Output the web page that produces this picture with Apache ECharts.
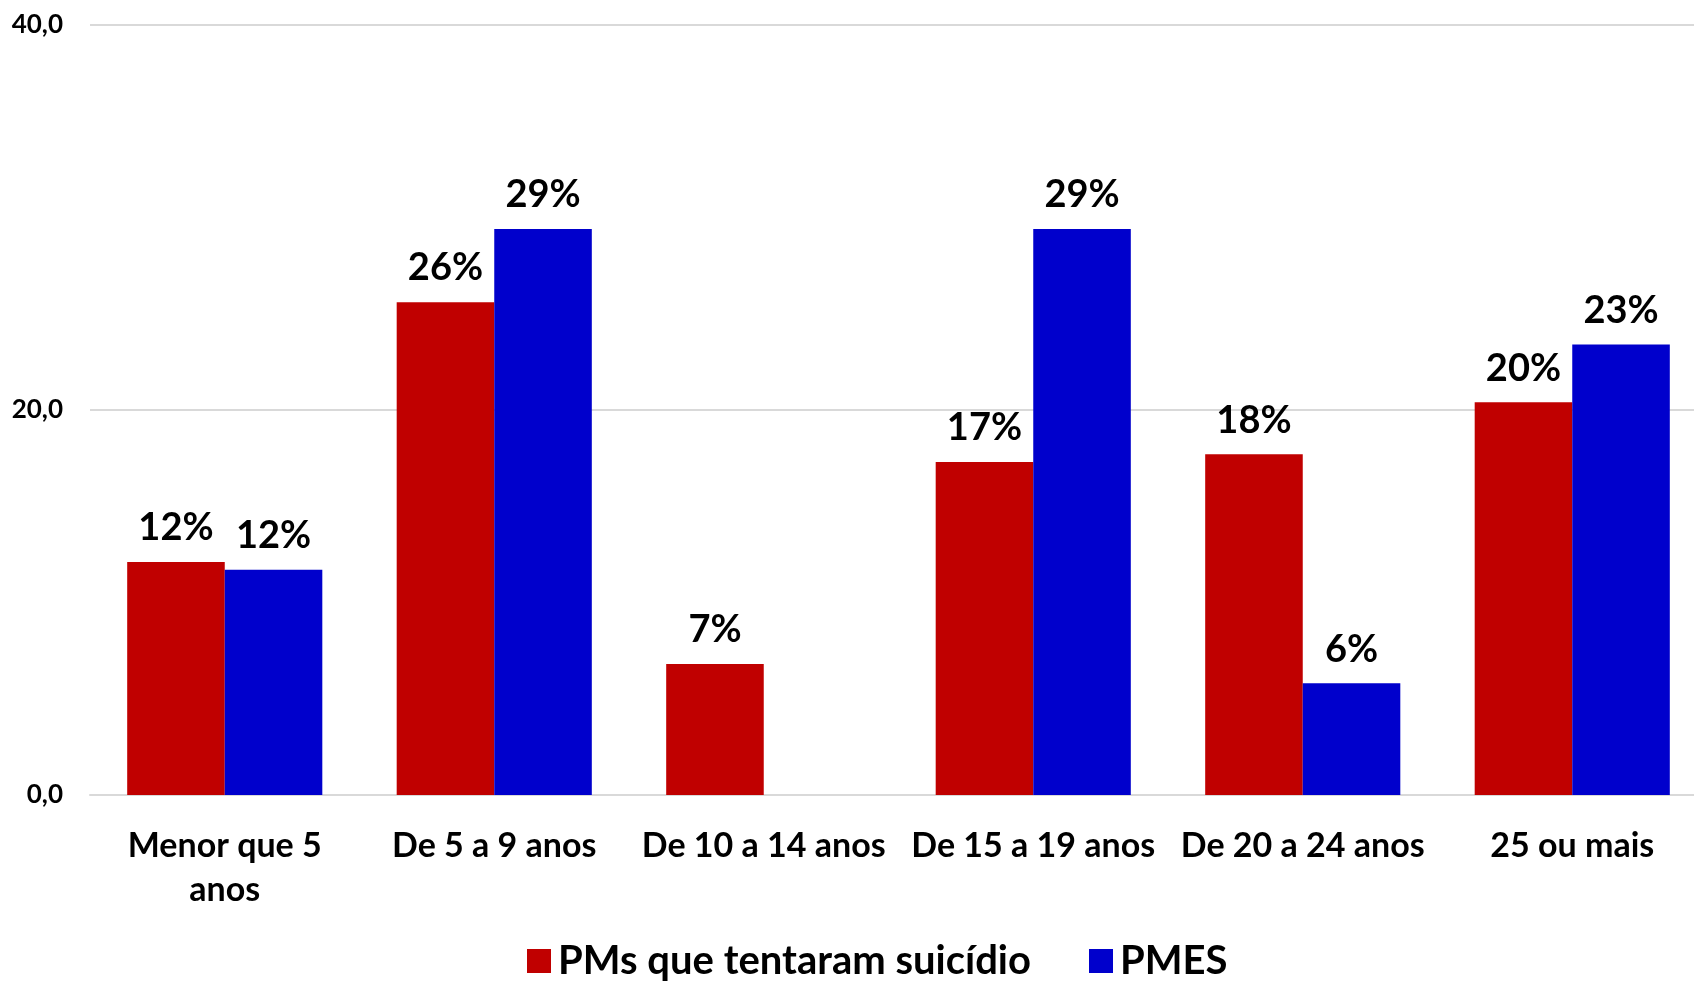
<!DOCTYPE html>
<html>
<head>
<meta charset="utf-8">
<script src="https://cdn.jsdelivr.net/npm/echarts@6/dist/echarts.min.js"></script>
<style>
html,body{margin:0;padding:0;background:#fff;}
#c{width:1694px;height:981px;}
</style>
</head>
<body>
<div id="c"></div>
<script>
var categories = ['Menor que 5\nanos', 'De 5 a 9 anos', 'De 10 a 14 anos', 'De 15 a 19 anos', 'De 20 a 24 anos', '25 ou mais'];
var seriesNames = ['PMs que tentaram suicídio', 'PMES'];
var tentaram = [12.1, 25.6, 6.8, 17.3, 17.7, 20.4];
var pmes = [11.7, 29.4, 0, 29.4, 5.8, 23.4];
var yTicks = [0, 20, 40];

var FONT = 'Lato';
var chart = echarts.init(document.getElementById('c'), null, {renderer: 'canvas'});
function lbl(p) { return p.value ? Math.round(p.value) + '%' : ''; }
chart.setOption({
  animation: false,
  backgroundColor: '#ffffff',
  textStyle: {fontFamily: FONT},
  grid: {left: 90, width: 1617, top: 25, height: 770, containLabel: false, outerBoundsMode: 'none'},
  legend: {
    bottom: -5, left: 522,
    itemWidth: 24, itemHeight: 24, itemGap: 58,
    icon: 'rect',
    textStyle: {fontFamily: FONT, fontWeight: 'bold', fontSize: 40, color: '#000', padding: [0, 0, 0, 2]},
    data: seriesNames
  },
  xAxis: {
    type: 'category',
    data: categories,
    axisLine: {lineStyle: {color: '#d9d9d9', width: 2}},
    axisTick: {show: false},
    axisLabel: {
      interval: 0, margin: 29, color: '#000',
      fontFamily: FONT, fontWeight: 'bold', fontSize: 34, lineHeight: 44
    }
  },
  yAxis: {
    type: 'value', min: yTicks[0], max: yTicks[yTicks.length - 1], interval: yTicks[1] - yTicks[0],
    axisLine: {show: false}, axisTick: {show: false},
    splitLine: {lineStyle: {color: '#d9d9d9', width: 2}},
    axisLabel: {
      margin: 27, color: '#000', fontFamily: FONT, fontWeight: 'bold', fontSize: 26,
      formatter: function (v) { return v.toFixed(1).replace('.', ','); }
    }
  },
  series: [
    {
      name: seriesNames[0], type: 'bar', data: tentaram,
      barWidth: '36.2%', barGap: '0%',
      itemStyle: {color: '#C00000'},
      label: {show: true, position: 'top', distance: 15, formatter: lbl,
        color: '#000', fontFamily: FONT, fontWeight: 'bold', fontSize: 38}
    },
    {
      name: seriesNames[1], type: 'bar', data: pmes,
      barWidth: '36.2%', barGap: '0%',
      itemStyle: {color: '#0000CC'},
      label: {show: true, position: 'top', distance: 15, formatter: lbl,
        color: '#000', fontFamily: FONT, fontWeight: 'bold', fontSize: 38}
    }
  ]
});
</script>
</body>
</html>
